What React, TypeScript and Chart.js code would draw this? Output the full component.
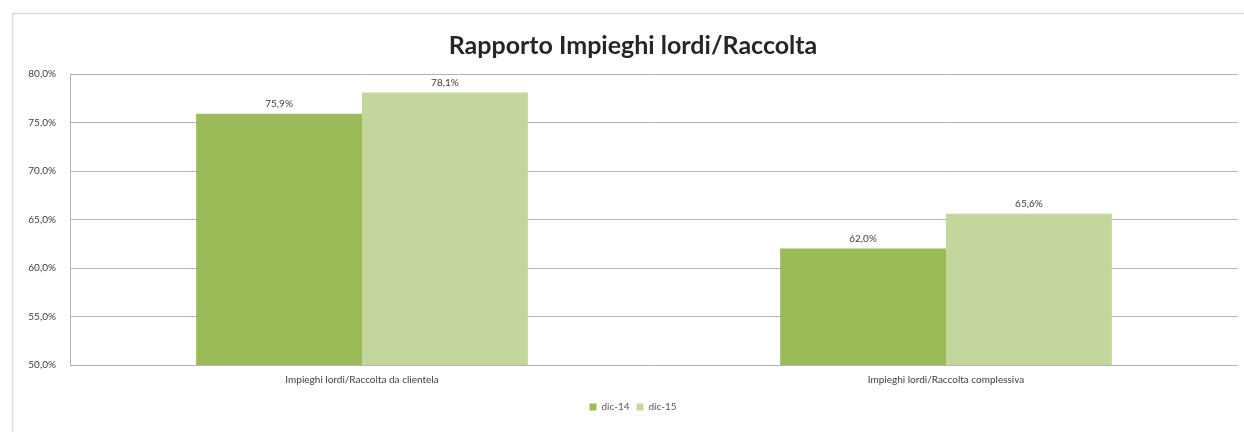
import React, { useEffect, useRef } from "react";
import { Chart, registerables } from "chart.js";

Chart.register(...registerables);

const categories = [
  "Impieghi lordi/Raccolta da clientela",
  "Impieghi lordi/Raccolta complessiva",
];
const seriesNames = ["dic-14", "dic-15"];
const dic14 = [75.9, 62.0];
const dic15 = [78.1, 65.6];
const seriesColors = ["#9BBB59", "#C3D69B"];
const chartTitle = "Rapporto Impieghi lordi/Raccolta";
const yMin = 50;
const yMax = 80;
const yStep = 5;

const fmt = (v: number) => v.toFixed(1).replace(".", ",") + "%";
const FONT = "Lato, 'Open Sans', sans-serif";

const borderPlugin = {
  id: "outerBorder",
  beforeDraw(chart: any) {
    const ctx = chart.ctx;
    ctx.save();
    ctx.strokeStyle = "#D9D9D9";
    ctx.lineWidth = 1.5;
    ctx.strokeRect(12.5, 13.5, 1400, 600);
    ctx.restore();
  },
};

const labelPlugin = {
  id: "valueLabels",
  afterDatasetsDraw(chart: any) {
    const ctx = chart.ctx;
    ctx.save();
    ctx.font = `10px ${FONT}`;
    ctx.fillStyle = "#404040";
    ctx.textAlign = "center";
    ctx.textBaseline = "bottom";
    chart.data.datasets.forEach((ds: any, i: number) => {
      const meta = chart.getDatasetMeta(i);
      meta.data.forEach((bar: any, j: number) => {
        ctx.fillText(fmt(ds.data[j]), bar.x, bar.y - 5);
      });
    });
    ctx.restore();
  },
};

export default function App() {
  const ref = useRef<HTMLCanvasElement>(null);
  useEffect(() => {
    if (!ref.current) return;
    const chart = new Chart(ref.current, {
      type: "bar",
      data: {
        labels: categories,
        datasets: [
          { label: seriesNames[0], data: dic14, backgroundColor: seriesColors[0] },
          { label: seriesNames[1], data: dic15, backgroundColor: seriesColors[1] },
        ],
      },
      options: {
        animation: false,
        responsive: false,
        maintainAspectRatio: false,
        layout: { padding: { left: 28, right: 6, top: 0, bottom: 10 } },
        datasets: { bar: { categoryPercentage: 0.568, barPercentage: 1.0 } },
        plugins: {
          title: {
            display: true,
            text: chartTitle,
            color: "#262626",
            font: { family: FONT, size: 25, weight: "bold" },
            padding: { top: 31, bottom: 13 },
          },
          legend: {
            position: "bottom",
            labels: {
              boxWidth: 7,
              boxHeight: 7,
              color: "#595959",
              font: { family: FONT, size: 10 },
              padding: 7,
            },
          },
          tooltip: { enabled: false },
        },
        scales: {
          x: {
            grid: { display: false, drawTicks: false },
            border: { display: false },
            ticks: {
              color: "#404040",
              font: { family: FONT, size: 10 },
              padding: 9,
            },
          },
          y: {
            min: yMin,
            max: yMax,
            afterFit: (scale: any) => {
              scale.width = 42;
            },
            grid: { color: "#B3B3B3", drawTicks: false, lineWidth: 1 },
            border: { display: true, color: "#B3B3B3" },
            ticks: {
              stepSize: yStep,
              color: "#404040",
              font: { family: FONT, size: 10 },
              padding: 14,
              callback: (v: any) => fmt(Number(v)),
            },
          },
        },
      },
      plugins: [borderPlugin, labelPlugin],
    });
    return () => chart.destroy();
  }, []);
  return (
    <div style={{ position: "fixed", left: 0, top: 0, width: 1244, height: 432, background: "#fff" }}>
      <canvas ref={ref} width={1244} height={432} style={{ width: 1244, height: 432 }} />
    </div>
  );
}
